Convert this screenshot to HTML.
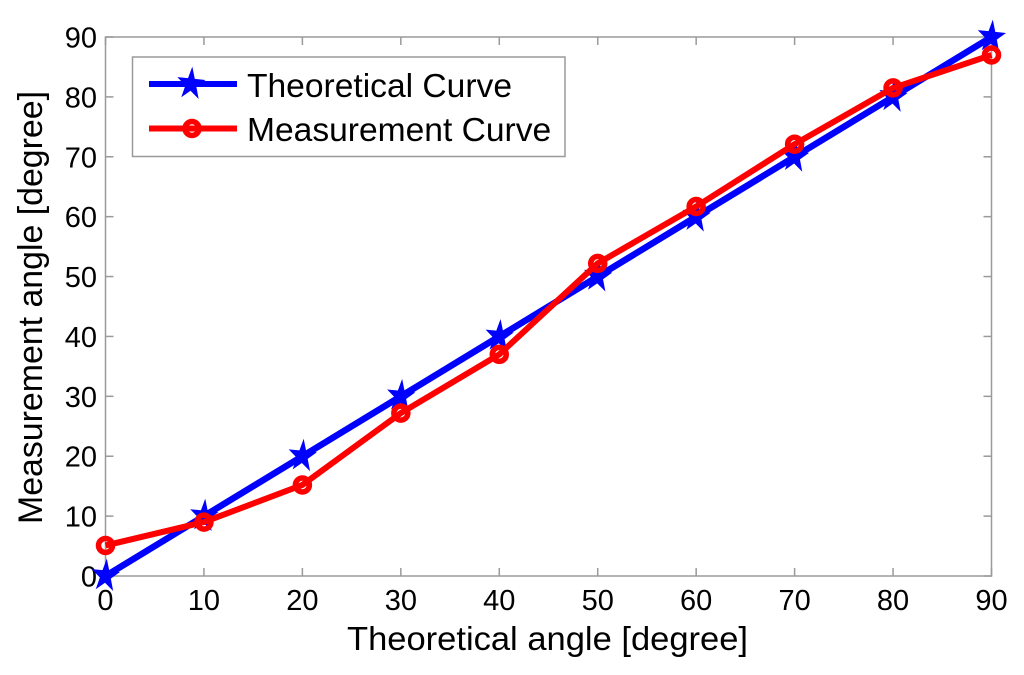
<!DOCTYPE html>
<html>
<head>
<meta charset="utf-8">
<title>Theoretical vs Measurement Angle</title>
<style>
  html, body { margin: 0; padding: 0; background: #fff; }
  svg { display: block; }
  text { font-family: "Liberation Sans", sans-serif; fill: #000; }
</style>
</head>
<body>
<svg id="chart" xmlns="http://www.w3.org/2000/svg" width="1024" height="675" viewBox="0 0 1024 675"></svg>
<script>
const categories = [0, 10, 20, 30, 40, 50, 60, 70, 80, 90];
const theoreticalValues = [0, 10, 20, 30, 40, 50, 60, 70, 80, 90];
const measurementValues = [5.1, 9, 15.2, 27.2, 37, 52.2, 61.7, 72.1, 81.5, 87];
const xTickLabels = [0, 10, 20, 30, 40, 50, 60, 70, 80, 90];
const yTickLabels = [0, 10, 20, 30, 40, 50, 60, 70, 80, 90];
const seriesNames = ['Theoretical Curve', 'Measurement Curve'];
const xAxisTitle = 'Theoretical angle [degree]';
const yAxisTitle = 'Measurement angle [degree]';

const plot = { left: 105.5, right: 991.5, top: 37, bottom: 576 };
const xMin = 0, xMax = 90, yMin = 0, yMax = 90;
const svg = document.getElementById('chart');
const NS = 'http://www.w3.org/2000/svg';

function xScale(v) { return plot.left + (v - xMin) / (xMax - xMin) * (plot.right - plot.left); }
function yScale(v) { return plot.bottom - (v - yMin) / (yMax - yMin) * (plot.bottom - plot.top); }

function make(tag, attrs, text) {
  const el = document.createElementNS(NS, tag);
  for (const k in attrs) el.setAttribute(k, attrs[k]);
  if (text !== undefined) el.textContent = text;
  svg.appendChild(el);
  return el;
}

function starPoints(cx, cy, R, r, rotDeg) {
  const pts = [];
  for (let i = 0; i < 10; i++) {
    const rad = i % 2 === 0 ? R : r;
    const a = (-90 + rotDeg + i * 36) * Math.PI / 180;
    pts.push((cx + 0.85 * rad * Math.cos(a)).toFixed(2) + ',' + (cy + rad * Math.sin(a)).toFixed(2));
  }
  return pts.join(' ');
}

function drawStar(cx, cy) {
  return make('polygon', { points: starPoints(cx, cy, 17.5, 6.8, 5), fill: '#0000ff' });
}

function drawCircle(cx, cy) {
  return make('circle', { cx: cx, cy: cy, r: 7, fill: 'none', stroke: '#ff0000', 'stroke-width': 5.5 });
}

const axisColor = '#9a9a9a';

/* plot frame */
const frame = make('rect', { x: plot.left, y: plot.top, width: plot.right - plot.left, height: plot.bottom - plot.top, fill: '#fff', stroke: axisColor, 'stroke-width': 1.5 });



/* x ticks and labels */
xTickLabels.forEach(function (t) {
  const x = xScale(t);
  const b = make('line', { x1: x, x2: x, y1: plot.bottom, y2: plot.bottom - 8, stroke: axisColor, 'stroke-width': 1.5 });
  
  
  const u = make('line', { x1: x, x2: x, y1: plot.top, y2: plot.top + 8, stroke: axisColor, 'stroke-width': 1.5 });
  
  
  const l = make('text', { x: x, y: 610, 'text-anchor': 'middle', 'font-size': 29 }, String(t));
  
  
});

/* y ticks and labels */
yTickLabels.forEach(function (t) {
  const y = yScale(t);
  const b = make('line', { x1: plot.left, x2: plot.left + 8, y1: y, y2: y, stroke: axisColor, 'stroke-width': 1.5 });
  
  
  const u = make('line', { x1: plot.right, x2: plot.right - 8, y1: y, y2: y, stroke: axisColor, 'stroke-width': 1.5 });
  
  
  const l = make('text', { x: 97, y: y + 10.5, 'text-anchor': 'end', 'font-size': 29 }, String(t));
  
  
});

/* axis titles */
const xTitle = make('text', { x: 547.5, y: 650, 'text-anchor': 'middle', 'font-size': 33, textLength: 401, lengthAdjust: 'spacingAndGlyphs' }, xAxisTitle);


const yTitle = make('text', { x: 0, y: 0, transform: 'translate(42,307.5) rotate(-90)', 'text-anchor': 'middle', 'font-size': 34, textLength: 433, lengthAdjust: 'spacingAndGlyphs' }, yAxisTitle);



function linePoints(values) {
  return values.map(function (v, i) {
    return xScale(categories[i]).toFixed(2) + ',' + yScale(v).toFixed(2);
  }).join(' ');
}

/* theoretical series */
const blueLine = make('polyline', { points: linePoints(theoreticalValues), fill: 'none', stroke: '#0000ff', 'stroke-width': 6.5, 'stroke-linejoin': 'round' });


theoreticalValues.forEach(function (v, i) {
  const s = drawStar(xScale(categories[i]), yScale(v));
  
  
});

/* measurement series */
const redLine = make('polyline', { points: linePoints(measurementValues), fill: 'none', stroke: '#ff0000', 'stroke-width': 6, 'stroke-linejoin': 'round' });


measurementValues.forEach(function (v, i) {
  const c = drawCircle(xScale(categories[i]), yScale(v));
  
  
});

/* legend */
const legendBox = make('rect', { x: 132.5, y: 57, width: 432.5, height: 99.5, fill: '#fff', stroke: axisColor, 'stroke-width': 1.5 });



const legendBlue = make('line', { x1: 149, x2: 237, y1: 84, y2: 84, stroke: '#0000ff', 'stroke-width': 6 });


const legendStar = drawStar(191, 84);


const legendText1 = make('text', { x: 247, y: 97, 'font-size': 33.6 }, seriesNames[0]);



const legendRed = make('line', { x1: 149, x2: 237, y1: 128.5, y2: 128.5, stroke: '#ff0000', 'stroke-width': 6 });


const legendCircle = drawCircle(192, 128.5);


const legendText2 = make('text', { x: 247, y: 141, 'font-size': 33.6 }, seriesNames[1]);


</script>
</body>
</html>
